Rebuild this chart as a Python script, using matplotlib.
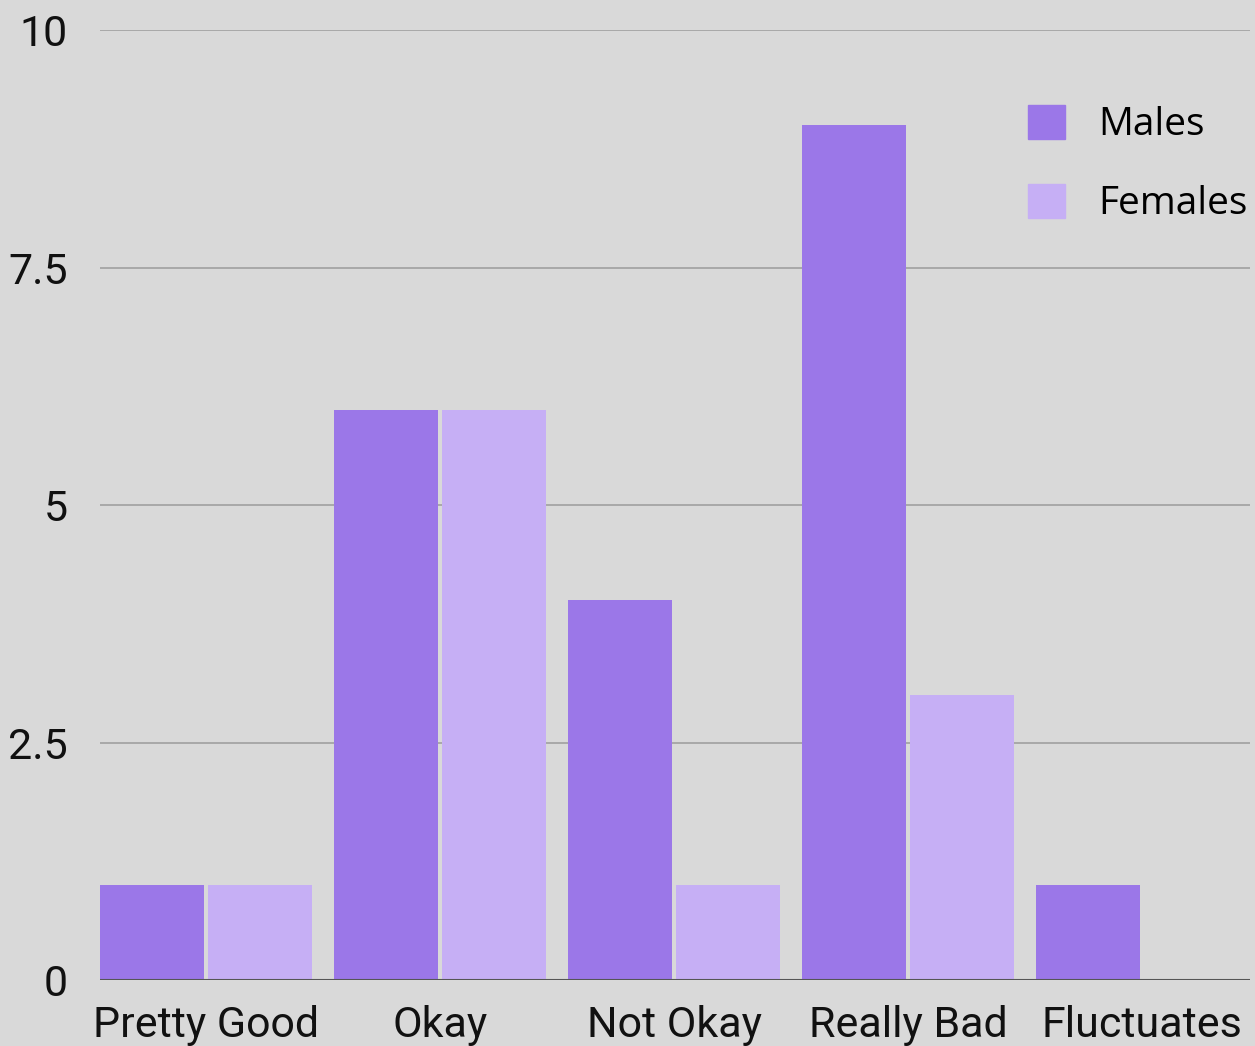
import numpy as np
import matplotlib.pyplot as plt
from matplotlib.patches import Patch

categories = ["Pretty Good", "Okay", "Not Okay", "Really Bad", "Fluctuates"]
males = [1, 6, 4, 9, 1]
females = [1, 6, 1, 3, 0]
yticks = [0, 2.5, 5, 7.5, 10]
ytick_labels = ["0", "2.5", "5", "7.5", "10"]

bg = "#d9d9d9"
male_col = "#9b77e8"
female_col = "#c6aff5"

plt.rcParams["font.family"] = ["Roboto", "DejaVu Sans"]

fig = plt.figure(figsize=(12.55, 10.46), dpi=100, facecolor=bg)
ax = fig.add_axes([0.0797, 0.0631, 0.9163, 0.9082], facecolor=bg)

x = np.arange(len(categories))
w = 0.444
off = 0.2308
ax.bar(x - off, males, width=w, color=male_col, zorder=3, label="Males")
ax.bar(x + off, females, width=w, color=female_col, zorder=3, label="Females")

ax.set_xlim(-0.453, 4.4615)
ax.set_ylim(0, 10)
ax.set_yticks(yticks)
ax.set_yticklabels(ytick_labels)
ax.set_xticks(x)
ax.set_xticklabels(categories)

for y in yticks[1:]:
    ax.axhline(y, color="#a0a0a0", lw=1.2, zorder=1)
ax.axhline(0, color="#555555", lw=1.5, zorder=4)

for s in ax.spines.values():
    s.set_visible(False)
ax.tick_params(axis="both", length=0, labelsize=31, colors="#111111")
ax.tick_params(axis="y", pad=23)
ax.tick_params(axis="x", pad=18)
for t in ax.get_yticklabels():
    t.set_horizontalalignment("right")

handles = [Patch(color=male_col, label="Males"), Patch(color=female_col, label="Females")]
ax.legend(handles=handles, loc="upper right", bbox_to_anchor=(0.998, 0.921),
          frameon=False, handlelength=0.95, handleheight=0.95,
          handletextpad=0.85, labelspacing=1.03, borderpad=0, borderaxespad=0,
          prop={"family": ["Open Sans", "DejaVu Sans"], "size": 28})

fig.savefig("out.png", dpi=100, facecolor=bg)
